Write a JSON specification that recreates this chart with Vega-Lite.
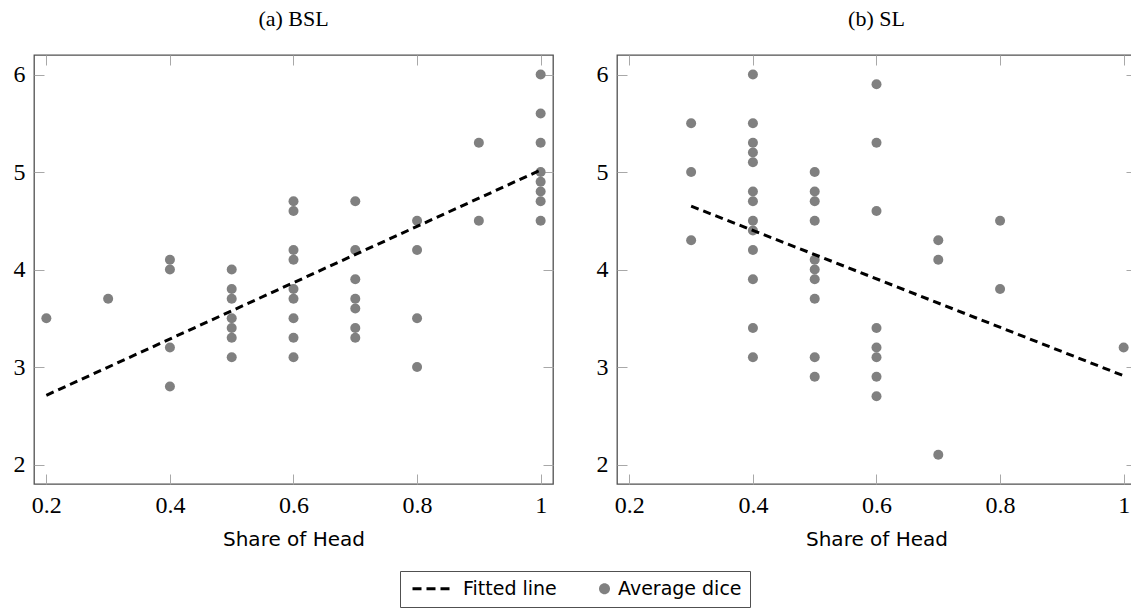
{
  "$schema": "https://vega.github.io/schema/vega-lite/v6.json",
  "background": "white",
  "padding": {"left": 12, "top": 6, "right": 0, "bottom": 0},
  "datasets": {
    "pts": [
      {"panel": "BSL", "share": 0.2, "dice": 3.5},
      {"panel": "BSL", "share": 0.3, "dice": 3.7},
      {"panel": "BSL", "share": 0.4, "dice": 4.1},
      {"panel": "BSL", "share": 0.4, "dice": 4.0},
      {"panel": "BSL", "share": 0.4, "dice": 3.2},
      {"panel": "BSL", "share": 0.4, "dice": 2.8},
      {"panel": "BSL", "share": 0.5, "dice": 4.0},
      {"panel": "BSL", "share": 0.5, "dice": 3.8},
      {"panel": "BSL", "share": 0.5, "dice": 3.7},
      {"panel": "BSL", "share": 0.5, "dice": 3.5},
      {"panel": "BSL", "share": 0.5, "dice": 3.4},
      {"panel": "BSL", "share": 0.5, "dice": 3.3},
      {"panel": "BSL", "share": 0.5, "dice": 3.1},
      {"panel": "BSL", "share": 0.6, "dice": 4.7},
      {"panel": "BSL", "share": 0.6, "dice": 4.6},
      {"panel": "BSL", "share": 0.6, "dice": 4.2},
      {"panel": "BSL", "share": 0.6, "dice": 4.1},
      {"panel": "BSL", "share": 0.6, "dice": 3.8},
      {"panel": "BSL", "share": 0.6, "dice": 3.7},
      {"panel": "BSL", "share": 0.6, "dice": 3.5},
      {"panel": "BSL", "share": 0.6, "dice": 3.3},
      {"panel": "BSL", "share": 0.6, "dice": 3.1},
      {"panel": "BSL", "share": 0.7, "dice": 4.7},
      {"panel": "BSL", "share": 0.7, "dice": 4.2},
      {"panel": "BSL", "share": 0.7, "dice": 3.9},
      {"panel": "BSL", "share": 0.7, "dice": 3.7},
      {"panel": "BSL", "share": 0.7, "dice": 3.6},
      {"panel": "BSL", "share": 0.7, "dice": 3.4},
      {"panel": "BSL", "share": 0.7, "dice": 3.3},
      {"panel": "BSL", "share": 0.8, "dice": 4.5},
      {"panel": "BSL", "share": 0.8, "dice": 4.2},
      {"panel": "BSL", "share": 0.8, "dice": 3.5},
      {"panel": "BSL", "share": 0.8, "dice": 3.0},
      {"panel": "BSL", "share": 0.9, "dice": 5.3},
      {"panel": "BSL", "share": 0.9, "dice": 4.5},
      {"panel": "BSL", "share": 1.0, "dice": 6.0},
      {"panel": "BSL", "share": 1.0, "dice": 5.6},
      {"panel": "BSL", "share": 1.0, "dice": 5.3},
      {"panel": "BSL", "share": 1.0, "dice": 5.0},
      {"panel": "BSL", "share": 1.0, "dice": 4.9},
      {"panel": "BSL", "share": 1.0, "dice": 4.8},
      {"panel": "BSL", "share": 1.0, "dice": 4.7},
      {"panel": "BSL", "share": 1.0, "dice": 4.5},
      {"panel": "SL", "share": 0.3, "dice": 5.5},
      {"panel": "SL", "share": 0.3, "dice": 5.0},
      {"panel": "SL", "share": 0.3, "dice": 4.3},
      {"panel": "SL", "share": 0.4, "dice": 6.0},
      {"panel": "SL", "share": 0.4, "dice": 5.5},
      {"panel": "SL", "share": 0.4, "dice": 5.3},
      {"panel": "SL", "share": 0.4, "dice": 5.2},
      {"panel": "SL", "share": 0.4, "dice": 5.1},
      {"panel": "SL", "share": 0.4, "dice": 4.8},
      {"panel": "SL", "share": 0.4, "dice": 4.7},
      {"panel": "SL", "share": 0.4, "dice": 4.5},
      {"panel": "SL", "share": 0.4, "dice": 4.4},
      {"panel": "SL", "share": 0.4, "dice": 4.2},
      {"panel": "SL", "share": 0.4, "dice": 3.9},
      {"panel": "SL", "share": 0.4, "dice": 3.4},
      {"panel": "SL", "share": 0.4, "dice": 3.1},
      {"panel": "SL", "share": 0.5, "dice": 5.0},
      {"panel": "SL", "share": 0.5, "dice": 4.8},
      {"panel": "SL", "share": 0.5, "dice": 4.7},
      {"panel": "SL", "share": 0.5, "dice": 4.5},
      {"panel": "SL", "share": 0.5, "dice": 4.1},
      {"panel": "SL", "share": 0.5, "dice": 4.0},
      {"panel": "SL", "share": 0.5, "dice": 3.9},
      {"panel": "SL", "share": 0.5, "dice": 3.7},
      {"panel": "SL", "share": 0.5, "dice": 3.1},
      {"panel": "SL", "share": 0.5, "dice": 2.9},
      {"panel": "SL", "share": 0.6, "dice": 5.9},
      {"panel": "SL", "share": 0.6, "dice": 5.3},
      {"panel": "SL", "share": 0.6, "dice": 4.6},
      {"panel": "SL", "share": 0.6, "dice": 3.4},
      {"panel": "SL", "share": 0.6, "dice": 3.2},
      {"panel": "SL", "share": 0.6, "dice": 3.1},
      {"panel": "SL", "share": 0.6, "dice": 2.9},
      {"panel": "SL", "share": 0.6, "dice": 2.7},
      {"panel": "SL", "share": 0.7, "dice": 4.3},
      {"panel": "SL", "share": 0.7, "dice": 4.1},
      {"panel": "SL", "share": 0.7, "dice": 2.1},
      {"panel": "SL", "share": 0.8, "dice": 4.5},
      {"panel": "SL", "share": 0.8, "dice": 3.8},
      {"panel": "SL", "share": 1.0, "dice": 3.2}
    ],
    "fit": [
      {"panel": "BSL", "share": 0.2, "fitted": 2.71},
      {"panel": "BSL", "share": 1.0, "fitted": 5.02},
      {"panel": "SL", "share": 0.3, "fitted": 4.65},
      {"panel": "SL", "share": 1.0, "fitted": 2.91}
    ]
  },
  "hconcat": [
    {
      "title": {"text": "(a) BSL"},
      "width": 519,
      "height": 429,
      "resolve": {"axis": {"x": "independent", "y": "independent"}},
      "layer": [
        {
          "data": {"name": "pts"},
          "transform": [{"filter": "datum.panel == 'BSL'"}],
          "mark": {"type": "point", "filled": true, "size": 100, "opacity": 1, "color": "#808080", "shape": "circle"},
          "encoding": {
            "x": {"field": "share", "type": "quantitative", "scale": {"domain": [0.18, 1.02], "nice": false, "zero": false},
                  "axis": {"orient": "bottom", "values": [0.2, 0.4, 0.6, 0.8, 1], "format": "~g", "title": "Share of Head"}},
            "y": {"field": "dice", "type": "quantitative", "scale": {"domain": [1.8, 6.2], "nice": false, "zero": false},
                  "axis": {"orient": "left", "values": [2, 3, 4, 5, 6], "title": null}}
          }
        },
        {
          "data": {"name": "pts"},
          "transform": [{"filter": "datum.panel == 'BSL' && datum.share < 0.5"}, {"calculate": "'Average dice'", "as": "series"}],
          "mark": {"type": "point", "filled": true, "size": 100, "opacity": 0, "clip": true},
          "encoding": {
            "x": {"field": "share", "type": "quantitative", "axis": null},
            "y": {"field": "dice", "type": "quantitative", "axis": null},
            "color": {"field": "series", "type": "nominal", "scale": {"domain": ["Fitted line", "Average dice"], "range": ["black", "#808080"]}, "legend": {"title": null}},
            "shape": {"field": "series", "type": "nominal", "scale": {"domain": ["Fitted line", "Average dice"], "range": ["M-1,-0.3h1.8v0.6h-1.8Z M1.8,-0.3h1.8v0.6h-1.8Z M4.6,-0.3h1.8v0.6h-1.8Z", "M5.3,0A1.1,1.1 0 1,0 7.5,0A1.1,1.1 0 1,0 5.3,0Z"]}, "legend": {"title": null}}
          }
        },
        {
          "data": {"name": "fit"},
          "transform": [{"filter": "datum.panel == 'BSL'"}],
          "mark": {"type": "line", "color": "black", "strokeWidth": 3, "strokeDash": [8, 5]},
          "encoding": {
            "x": {"field": "share", "type": "quantitative", "axis": {"orient": "top", "values": [0.2, 0.4, 0.6, 0.8, 1], "labels": false, "title": null}},
            "y": {"field": "fitted", "type": "quantitative", "axis": {"orient": "right", "values": [2, 3, 4, 5, 6], "labels": false, "title": null}}
          }
        }
      ]
    },
    {
      "title": {"text": "(b) SL"},
      "width": 519,
      "height": 429,
      "resolve": {"axis": {"x": "independent", "y": "independent"}},
      "layer": [
        {
          "data": {"name": "pts"},
          "transform": [{"filter": "datum.panel == 'SL'"}],
          "mark": {"type": "point", "filled": true, "size": 100, "opacity": 1, "color": "#808080", "shape": "circle"},
          "encoding": {
            "x": {"field": "share", "type": "quantitative", "scale": {"domain": [0.18, 1.02], "nice": false, "zero": false},
                  "axis": {"orient": "bottom", "values": [0.2, 0.4, 0.6, 0.8, 1], "format": "~g", "title": "Share of Head"}},
            "y": {"field": "dice", "type": "quantitative", "scale": {"domain": [1.8, 6.2], "nice": false, "zero": false},
                  "axis": {"orient": "left", "values": [2, 3, 4, 5, 6], "title": null}}
          }
        },
        {
          "data": {"name": "fit"},
          "transform": [{"filter": "datum.panel == 'SL'"}],
          "mark": {"type": "line", "color": "black", "strokeWidth": 3, "strokeDash": [8, 5]},
          "encoding": {
            "x": {"field": "share", "type": "quantitative", "axis": {"orient": "top", "values": [0.2, 0.4, 0.6, 0.8, 1], "labels": false, "title": null}},
            "y": {"field": "fitted", "type": "quantitative", "axis": {"orient": "right", "values": [2, 3, 4, 5, 6], "labels": false, "title": null}}
          }
        }
      ]
    }
  ],
  "spacing": 40,
  "config": {
    "view": {"stroke": "#505050", "strokeWidth": 1.3},
    "axis": {"domain": false, "grid": false, "tickColor": "#a8a8a8", "tickSize": -10, "tickWidth": 1, "labelPadding": 19,
             "labelFont": "Liberation Serif", "labelFontSize": 24, "labelColor": "black",
             "titleFont": "DejaVu Sans", "titleFontSize": 20, "titleFontWeight": "normal", "titleColor": "black", "titlePadding": 12},
    "title": {"font": "Liberation Serif", "fontSize": 22, "fontWeight": "normal", "color": "black", "offset": 24, "anchor": "middle"},
    "legend": {"orient": "none", "legendX": 366, "legendY": 516, "direction": "horizontal", "strokeColor": "#505050", "fillColor": "white",
               "padding": 8, "symbolSize": 100, "symbolStrokeWidth": 0, "symbolOpacity": 1, "labelFont": "DejaVu Sans", "labelFontSize": 19, "labelColor": "black",
               "columnPadding": 6, "labelOffset": 36}
  }
}
